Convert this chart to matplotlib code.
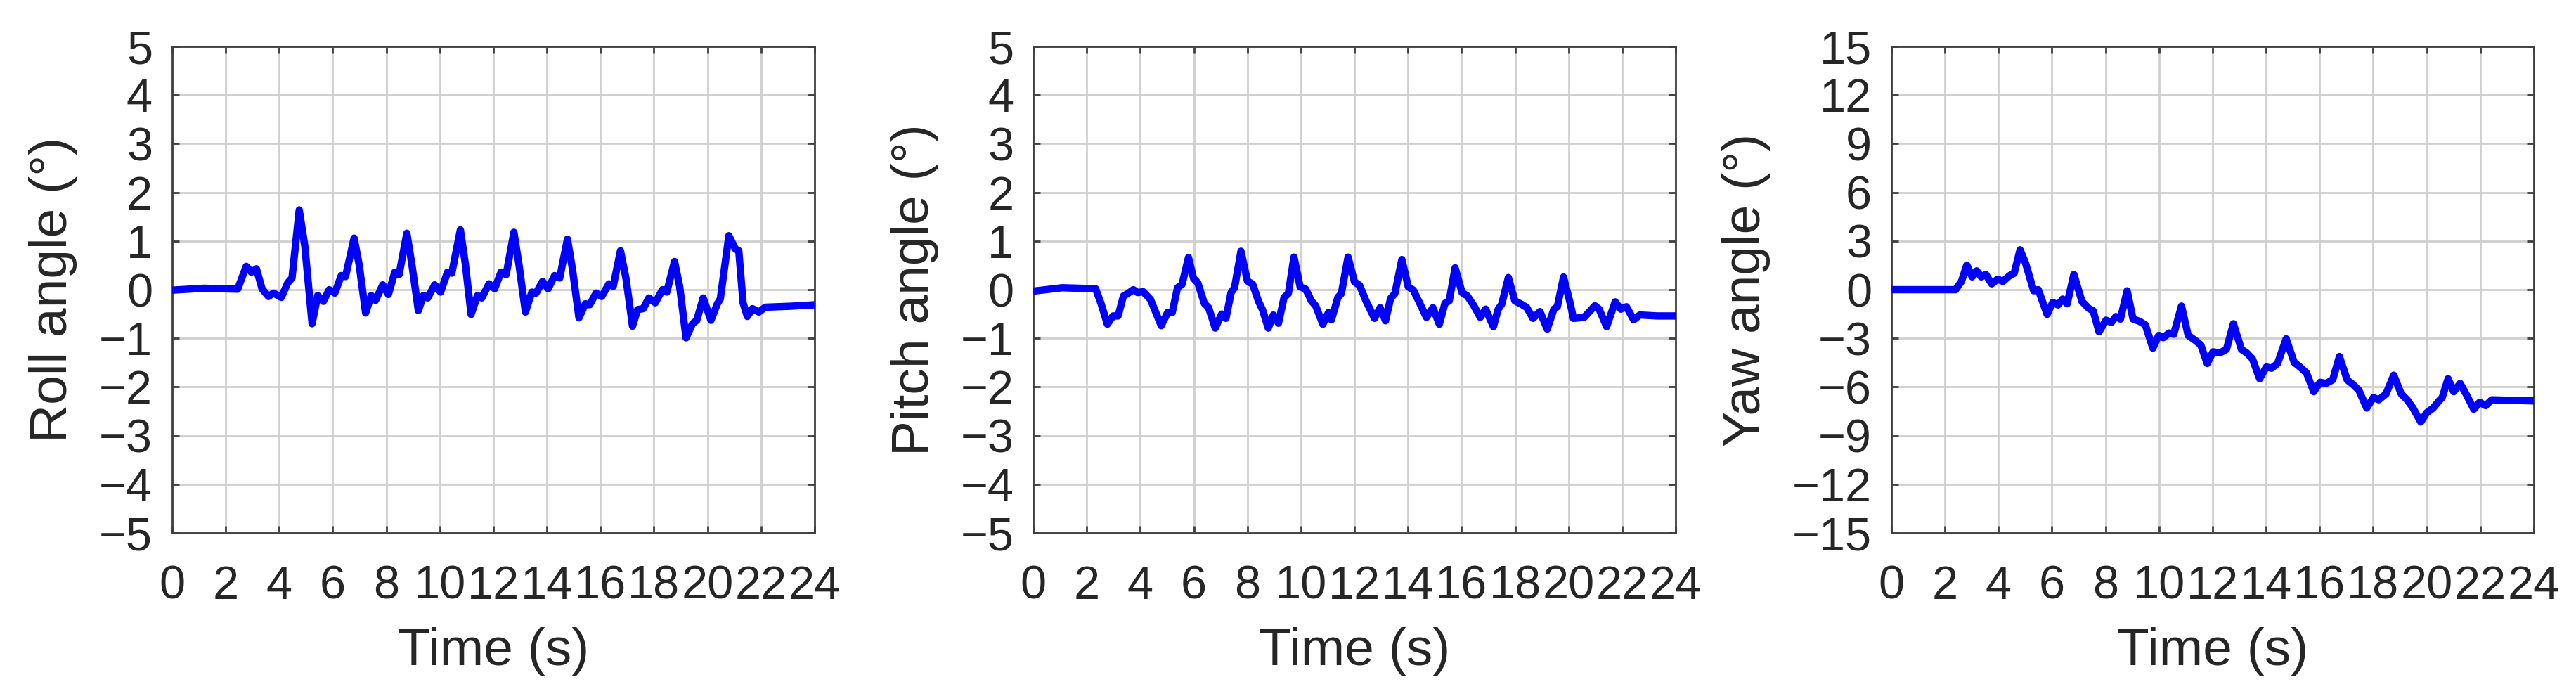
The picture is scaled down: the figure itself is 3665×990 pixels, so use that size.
import matplotlib.pyplot as plt
import numpy as np

plt.rcParams['font.family'] = ['Liberation Sans', 'DejaVu Sans']

# values (time in s, angle in degrees)
roll_t = [0, 1.2, 2.45, 2.77, 2.96, 3.15, 3.36, 3.6, 3.79, 4.08, 4.32, 4.48, 4.75, 4.96,
          5.23, 5.44, 5.65, 5.87, 6.08, 6.32, 6.48, 6.8, 6.99, 7.23, 7.44, 7.6, 7.87, 8.08,
          8.32, 8.48, 8.77, 8.96, 9.2, 9.39, 9.55, 9.81, 10.03, 10.29, 10.45, 10.77, 10.96,
          11.17, 11.41, 11.57, 11.84, 12.05, 12.29, 12.48, 12.77, 12.96, 13.2, 13.44, 13.6,
          13.84, 14.05, 14.29, 14.48, 14.77, 14.96, 15.2, 15.44, 15.6, 15.84, 16.05, 16.32,
          16.48, 16.75, 16.96, 17.2, 17.39, 17.6, 17.81, 18.05, 18.32, 18.48, 18.77, 18.96,
          19.2, 19.44, 19.6, 19.84, 20.13, 20.37, 20.48, 20.8, 21.04, 21.17, 21.33, 21.49,
          21.68, 21.92, 22.16, 23.12, 24.0]
roll_deg = [-0.01, 0.03, 0.01, 0.48, 0.36, 0.43, 0.02, -0.14, -0.07, -0.16, 0.14, 0.24, 1.64, 0.89,
            -0.70, -0.12, -0.24, 0.0, -0.07, 0.29, 0.27, 1.06, 0.51, -0.48, -0.12, -0.22, 0.10, -0.10,
            0.36, 0.31, 1.16, 0.51, -0.43, -0.12, -0.17, 0.10, -0.05, 0.36, 0.34, 1.23, 0.51,
            -0.51, -0.12, -0.17, 0.12, 0.02, 0.36, 0.31, 1.18, 0.51, -0.46, -0.05, -0.07,
            0.17, 0.02, 0.29, 0.24, 1.04, 0.41, -0.58, -0.29, -0.31, -0.07, -0.14, 0.12,
            0.07, 0.80, 0.22, -0.75, -0.41, -0.39, -0.17, -0.27, 0.0, -0.05, 0.58, 0.07,
            -0.99, -0.70, -0.63, -0.17, -0.63, -0.29, -0.19, 1.11, 0.84, 0.80, -0.27, -0.55,
            -0.39, -0.46, -0.36, -0.34, -0.31]

pitch_t = [0, 1.08, 2.33, 2.53, 2.77, 2.98, 3.17, 3.37, 3.53, 3.74, 3.9, 4.1, 4.38, 4.78,
           5.02, 5.19, 5.39, 5.56, 5.8, 5.99, 6.15, 6.39, 6.55, 6.8, 7.04, 7.2, 7.39, 7.52,
           7.76, 8.0, 8.2, 8.41, 8.57, 8.78, 8.97, 9.16, 9.37, 9.53, 9.74, 9.97, 10.18, 10.39,
           10.55, 10.82, 11.03, 11.14, 11.38, 11.51, 11.76, 12.0, 12.19, 12.43, 12.75, 12.96,
           13.16, 13.35, 13.51, 13.77, 14.01, 14.2, 14.44, 14.69, 14.93, 15.17, 15.38, 15.54,
           15.76, 16.02, 16.22, 16.46, 16.7, 16.9, 17.19, 17.37, 17.5, 17.75, 17.99, 18.24,
           18.44, 18.67, 18.93, 19.2, 19.45, 19.58, 19.81, 20.06, 20.18, 20.58, 20.98, 21.14,
           21.42, 21.74, 21.95, 22.16, 22.43, 22.66, 23.3, 24.0]
pitch_deg = [-0.03, 0.04, 0.02, -0.28, -0.71, -0.54, -0.54, -0.13, -0.08, 0.0, -0.06, -0.04, -0.20, -0.74,
             -0.47, -0.47, 0.04, 0.11, 0.66, 0.23, 0.14, -0.28, -0.37, -0.79, -0.50, -0.59, -0.06, 0.04,
             0.79, 0.18, 0.11, -0.23, -0.42, -0.79, -0.52, -0.69, -0.16, -0.08, 0.67, 0.06, 0.01, -0.23,
             -0.33, -0.71, -0.47, -0.62, -0.16, -0.08, 0.67, 0.16, 0.09, -0.23, -0.59, -0.37,
             -0.64, -0.18, -0.08, 0.62, 0.06, -0.01, -0.28, -0.57, -0.37, -0.71, -0.28, -0.23,
             0.45, -0.06, -0.13, -0.33, -0.57, -0.40, -0.76, -0.40, -0.30, 0.25, -0.23, -0.30,
             -0.37, -0.59, -0.45, -0.81, -0.40, -0.35, 0.26, -0.28, -0.59, -0.57, -0.33, -0.40,
             -0.76, -0.25, -0.40, -0.35, -0.62, -0.52, -0.54, -0.54]

yaw_t = [0, 2.4, 2.62, 2.82, 3.02, 3.19, 3.36, 3.53, 3.75, 3.97, 4.17, 4.42, 4.59, 4.81,
         5.01, 5.32, 5.49, 5.82, 6.03, 6.23, 6.4, 6.57, 6.82, 7.12, 7.38, 7.54, 7.76, 8.02,
         8.22, 8.39, 8.56, 8.81, 9.03, 9.27, 9.49, 9.77, 9.99, 10.16, 10.38, 10.55, 10.84,
         11.09, 11.34, 11.56, 11.8, 12.02, 12.27, 12.52, 12.78, 13.08, 13.28, 13.49, 13.76,
         14.01, 14.21, 14.43, 14.75, 15.05, 15.27, 15.51, 15.78, 16.02, 16.24, 16.49, 16.74,
         17.03, 17.25, 17.47, 17.76, 18.01, 18.21, 18.48, 18.77, 19.05, 19.27, 19.49, 19.78,
         20.0, 20.24, 20.46, 20.58, 20.8, 21.01, 21.25, 21.47, 21.76, 21.98, 22.2, 22.43, 24.0]
yaw_deg = [0, 0, 0.51, 1.52, 0.79, 1.16, 0.79, 0.94, 0.36, 0.65, 0.51, 0.87, 1.01, 2.46,
           1.66, -0.07, 0, -1.52, -0.79, -0.94, -0.58, -0.87, 0.94, -0.72, -1.16, -1.30, -2.60, -1.88,
           -2.02, -1.66, -1.81, -0.07, -1.81, -1.95, -2.17, -3.61, -2.82, -2.96, -2.67, -2.75, -1.01,
           -2.82, -3.11, -3.40, -4.55, -3.83, -3.90, -3.68, -2.10, -3.68, -3.90, -4.26, -5.49,
           -4.77, -4.84, -4.55, -3.03, -4.48, -4.77, -5.13, -6.29, -5.71, -5.78, -5.56, -4.12,
           -5.56, -5.85, -6.21, -7.30, -6.65, -6.79, -6.43, -5.27, -6.43, -6.79, -7.30, -8.16,
           -7.59, -7.30, -6.86, -6.65, -5.49, -6.29, -5.78, -6.43, -7.37, -6.94, -7.15, -6.79, -6.86]

time_ticks = np.arange(0, 25, 2)
roll_ticks = np.arange(-5, 6, 1)
yaw_ticks = np.arange(-15, 16, 3)

panels = [
    (roll_t, roll_deg, 'Roll angle (°)', roll_ticks),
    (pitch_t, pitch_deg, 'Pitch angle (°)', roll_ticks),
    (yaw_t, yaw_deg, 'Yaw angle (°)', yaw_ticks),
]
lefts = [0.0668, 0.4011, 0.7342]

text_col = '#262626'
fig = plt.figure(figsize=(36.65, 9.9), dpi=100)

for (t, ang, ylab, yt), left in zip(panels, lefts):
    ax = fig.add_axes([left, 0.2343, 0.2494, 0.699])
    ax.plot(t, ang, color='#0000ff', lw=7.5, solid_joinstyle='round',
            solid_capstyle='butt', zorder=3)
    ax.set_xlim(0, 24)
    ax.set_ylim(yt[0], yt[-1])
    ax.set_xticks(time_ticks)
    ax.set_yticks(yt)
    ax.grid(True, color='#cfcfcf', lw=2.0)
    ax.set_axisbelow(True)
    ax.tick_params(direction='in', length=7, width=2.0, colors='#404040',
                   labelcolor=text_col, top=True, right=True, labelsize=48)
    ax.tick_params(axis='x', pad=33)
    ax.tick_params(axis='y', pad=20)
    for sp in ax.spines.values():
        sp.set_color('#404040')
        sp.set_linewidth(2.0)
    ax.set_xlabel('Time (s)', fontsize=54, color=text_col, labelpad=19)
    ax.set_ylabel(ylab, fontsize=54, color=text_col, labelpad=22)

fig.savefig('out.png', dpi=100, facecolor='white')
